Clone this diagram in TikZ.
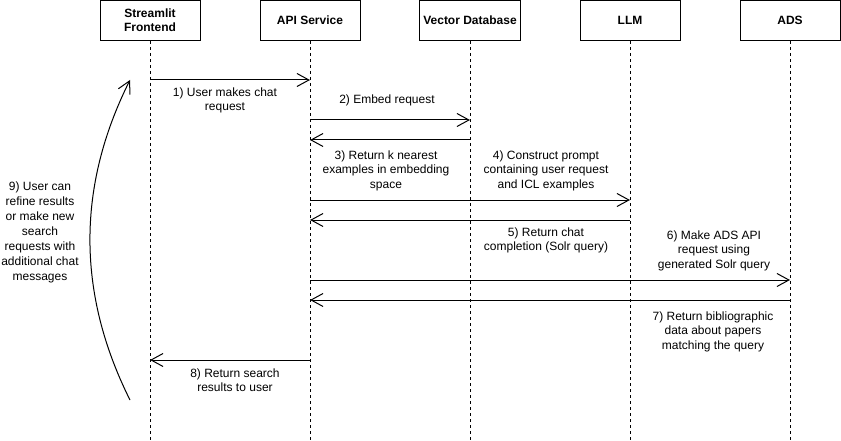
\documentclass[tikz,border=0pt]{standalone}
\usepackage{fontspec}
\setmainfont{Liberation Sans}
\usetikzlibrary{arrows.meta,positioning}

\begin{document}
\begin{tikzpicture}[x=1pt, y=-1pt,
  actor/.style = {draw, line width=1pt, minimum width=100pt, minimum height=40pt,
                  align=center, font=\fontsize{12}{14.4}\selectfont\bfseries},
  life/.style  = {line width=1pt, dash pattern=on 3pt off 3pt},
  msg/.style   = {line width=1pt, -{Straight Barb[length=12pt,width=13pt,line width=1pt]}},
  lbl/.style   = {align=center, inner sep=0pt, font=\fontsize{12}{14.4}\selectfont}]
\useasboundingbox (0,0) rectangle (841,441);
% participants
\node[actor] (fe)  at (150,20.5) {Streamlit\\Frontend};
\node[actor] (api) at (310,20.5) {API Service};
\node[actor] (vdb) at (470,20.5) {Vector Database};
\node[actor] (llm) at (630,20.5) {LLM};
\node[actor] (ads) at (790,20.5) {ADS};
% lifelines
\foreach \p in {fe,api,vdb,llm,ads}
  \draw[life] (\p.south) -- (\p.south |- 0,441);

% messages
\draw[msg] (fe.south |- 0,80)   -- (api.south |- 0,80);
\node[lbl] (l1) at (225,100.5) {1) User makes chat\\request};
\draw[msg] (api.south |- 0,120) -- (vdb.south |- 0,120);
\node[lbl] (l2) at (387,100.5) {2) Embed request};
\draw[msg] (vdb.south |- 0,140) -- (api.south |- 0,140);
\node[lbl] (l3) at (386,170.5) {3) Return k nearest\\examples in embedding\\space};
\draw[msg] (api.south |- 0,200) -- (llm.south |- 0,200);
\node[lbl] (l4) at (546,170.5) {4) Construct prompt\\containing user request\\and ICL examples};
\draw[msg] (llm.south |- 0,220) -- (api.south |- 0,220);
\node[lbl] (l5) at (546,240.5) {5) Return chat\\completion (Solr query)};
\draw[msg] (api.south |- 0,280) -- (ads.south |- 0,280);
\node[lbl] (l6) at (714,250.5) {6) Make ADS API\\request using\\generated Solr query};
\draw[msg] (ads.south |- 0,300) -- (api.south |- 0,300);
\node[lbl] (l7) at (713,331.5) {7) Return bibliographic\\data about papers\\matching the query};
\draw[msg] (api.south |- 0,360) -- (fe.south |- 0,360);
\node[lbl] (l8) at (235,380.5) {8) Return search\\results to user};

% loop back
\coordinate (c9s) at (130,400);
\coordinate (c9e) at (130,80);
\draw[msg] (c9s) .. controls (76.7,293.3) and (76.7,186.7) .. (c9e);
\node[lbl, font=\fontsize{12}{15}\selectfont] (l9) at (40,232.5) {9) User can\\refine results\\or make new\\search\\requests with\\additional chat\\messages};
\end{tikzpicture}
\end{document}
